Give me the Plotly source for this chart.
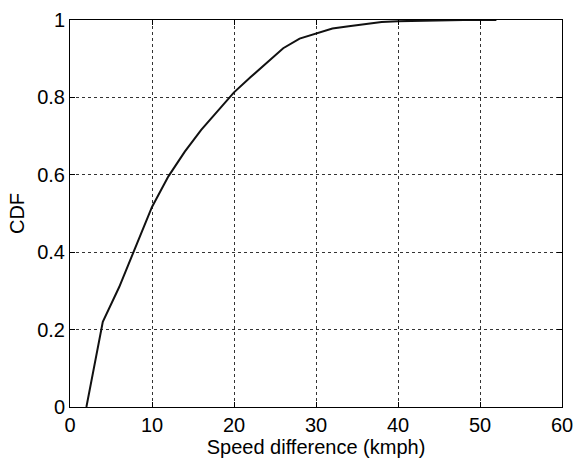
import plotly.graph_objects as go

speed_diff = [2, 4, 6, 8, 10, 12, 14, 16, 18, 20, 22, 24, 26, 28, 30, 32, 34, 36, 38, 40, 42, 44, 46, 48, 50, 52]
cdf = [0.0, 0.22, 0.31, 0.415, 0.517, 0.596, 0.66, 0.716, 0.765, 0.813, 0.852, 0.89, 0.927, 0.952, 0.966, 0.978, 0.984, 0.99, 0.995, 0.997, 0.998, 0.999, 1.0, 1.0, 1.0, 1.0]

x_ticks = [0, 10, 20, 30, 40, 50, 60]
y_ticks = [0, 0.2, 0.4, 0.6, 0.8, 1]
y_tick_text = ["0", "0.2", "0.4", "0.6", "0.8", "1"]

font_family = "Liberation Sans, Arial, Helvetica, sans-serif"

fig = go.Figure()
fig.add_trace(go.Scatter(
    x=speed_diff, y=cdf, mode="lines",
    line=dict(color="#111111", width=2),
    showlegend=False,
))

axis_common = dict(
    showline=True, linecolor="black", linewidth=1, mirror="ticks",
    ticks="inside", ticklen=5, tickcolor="black", tickwidth=1,
    showgrid=True, gridcolor="#333333", gridwidth=1, griddash="dot",
    zeroline=False, automargin=False,
    tickfont=dict(family=font_family, size=20, color="black"),
)

fig.update_xaxes(
    range=[0, 60], tickvals=x_ticks,
    title=dict(text="Speed difference (kmph)", font=dict(family=font_family, size=20, color="black"), standoff=8),
    **axis_common,
)
fig.update_yaxes(
    range=[0, 1], tickvals=y_ticks, ticktext=y_tick_text,
    title=dict(text="CDF", font=dict(family=font_family, size=20, color="black"), standoff=7),
    **axis_common,
)

fig.update_layout(
    width=575, height=458,
    margin=dict(l=70, r=13, t=20, b=51),
    paper_bgcolor="white", plot_bgcolor="white",
    font=dict(family=font_family, color="black"),
)

fig.write_html("out.html")
